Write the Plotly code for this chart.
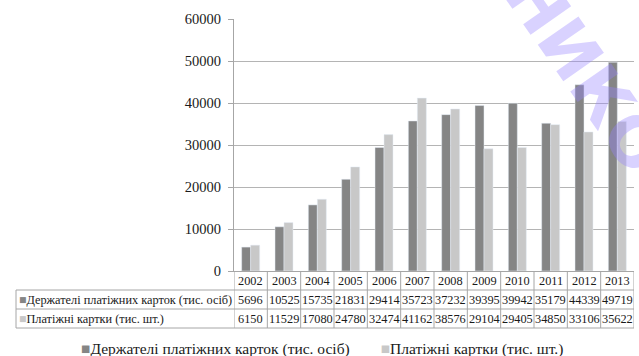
import plotly.graph_objects as go

years = ["2002", "2003", "2004", "2005", "2006", "2007", "2008", "2009", "2010", "2011", "2012", "2013"]
holders = [5696, 10525, 15735, 21831, 29414, 35723, 37232, 39395, 39942, 35179, 44339, 49719]
cards = [6150, 11529, 17080, 24780, 32474, 41162, 38576, 29104, 29405, 34850, 33106, 35622]
name_holders = "Держателі платіжних карток (тис. осіб)"
name_cards = "Платіжні картки (тис. шт.)"
y_ticks = [0, 10000, 20000, 30000, 40000, 50000, 60000]

C_DARK = "#858585"
C_LIGHT = "#c8c8c8"
GRID = "#b4b4b4"
BORDER = "#a6a6a6"
FONT = "Liberation Serif, Times New Roman, DejaVu Serif, serif"
TXT = "#1a1a1a"

W, H = 639, 356
ML, MR, MT, MB = 234, 5, 19, 85
PW = W - ML - MR
PH = H - MT - MB

fig = go.Figure()
fig.add_trace(go.Bar(x=years, y=holders, name=name_holders, marker_color=C_DARK))
fig.add_trace(go.Bar(x=years, y=cards, name=name_cards, marker_color=C_LIGHT))

row_h = 19 / PH
left = -(ML - 16) / PW

shapes = []
for k in range(1, 4):
    shapes.append(dict(type="line", xref="paper", yref="paper", x0=left, x1=1,
                       y0=-k * row_h, y1=-k * row_h, line=dict(color=BORDER, width=1)))
shapes.append(dict(type="line", xref="paper", yref="paper", x0=left, x1=left,
                   y0=-row_h, y1=-3 * row_h, line=dict(color=BORDER, width=1)))
for i in range(len(years) + 1):
    shapes.append(dict(type="line", xref="x", yref="paper", x0=i - 0.5, x1=i - 0.5,
                       y0=0, y1=-3 * row_h, line=dict(color=BORDER, width=1)))

TF = dict(family=FONT, size=12.3, color=TXT)
ann = []
for i, yr in enumerate(years):
    for r, txt in enumerate([yr, str(holders[i]), str(cards[i])]):
        ann.append(dict(x=i, y=-(r + 0.5) * row_h, xref="x", yref="paper", text=txt,
                        showarrow=False, xanchor="center", yanchor="middle", font=TF))

ann.append(dict(x=left + 1 / PW, y=-1.5 * row_h, xref="paper", yref="paper", xanchor="left",
                yanchor="middle",
                text=f'<span style="color:{C_DARK}">■</span>{name_holders}', showarrow=False, font=TF))
ann.append(dict(x=left + 1 / PW, y=-2.5 * row_h, xref="paper", yref="paper", xanchor="left",
                yanchor="middle",
                text=f'<span style="color:{C_LIGHT}">■</span>{name_cards}', showarrow=False, font=TF))

# bottom legend
ann.append(dict(x=(322 - ML) / PW, y=-(349 - (H - MB)) / PH, xref="paper", yref="paper",
                xanchor="center", yanchor="middle", showarrow=False,
                text=(f'<span style="color:{C_DARK}">■</span>{name_holders}'
                      f'\u2003\u2003<span style="color:{C_LIGHT}">■</span>{name_cards}'),
                font=dict(family=FONT, size=15.5, color=TXT)))

# watermark
ann.append(dict(x=(586 - ML) / PW, y=((H - MB) - 72) / PH, xref="paper", yref="paper",
                text="<b>НИКО</b>", textangle=55, showarrow=False, xanchor="center", yanchor="middle",
                font=dict(family="DejaVu Sans", size=68, color="rgba(150,130,255,0.36)")))

fig.update_layout(
    width=W, height=H,
    margin=dict(l=ML, r=MR, t=MT, b=MB),
    paper_bgcolor="white", plot_bgcolor="white",
    barmode="group", bargap=0.46, bargroupgap=0,
    showlegend=False,
    shapes=shapes, annotations=ann,
    font=dict(family=FONT, color=TXT),
)
fig.update_xaxes(type="category", range=[-0.5, len(years) - 0.5], showticklabels=False,
                 showgrid=False, showline=True, linecolor=BORDER, ticks="", zeroline=False)
fig.update_yaxes(range=[0, 60000], tickvals=y_ticks, tickformat="d", showgrid=True,
                 gridcolor=GRID, gridwidth=1,
                 showline=True, linecolor=BORDER, ticks="outside", ticklen=5, tickcolor=BORDER,
                 tickfont=dict(family=FONT, size=14.5, color=TXT), zeroline=False,
                 ticklabelstandoff=4)

fig.write_html("out.html")
